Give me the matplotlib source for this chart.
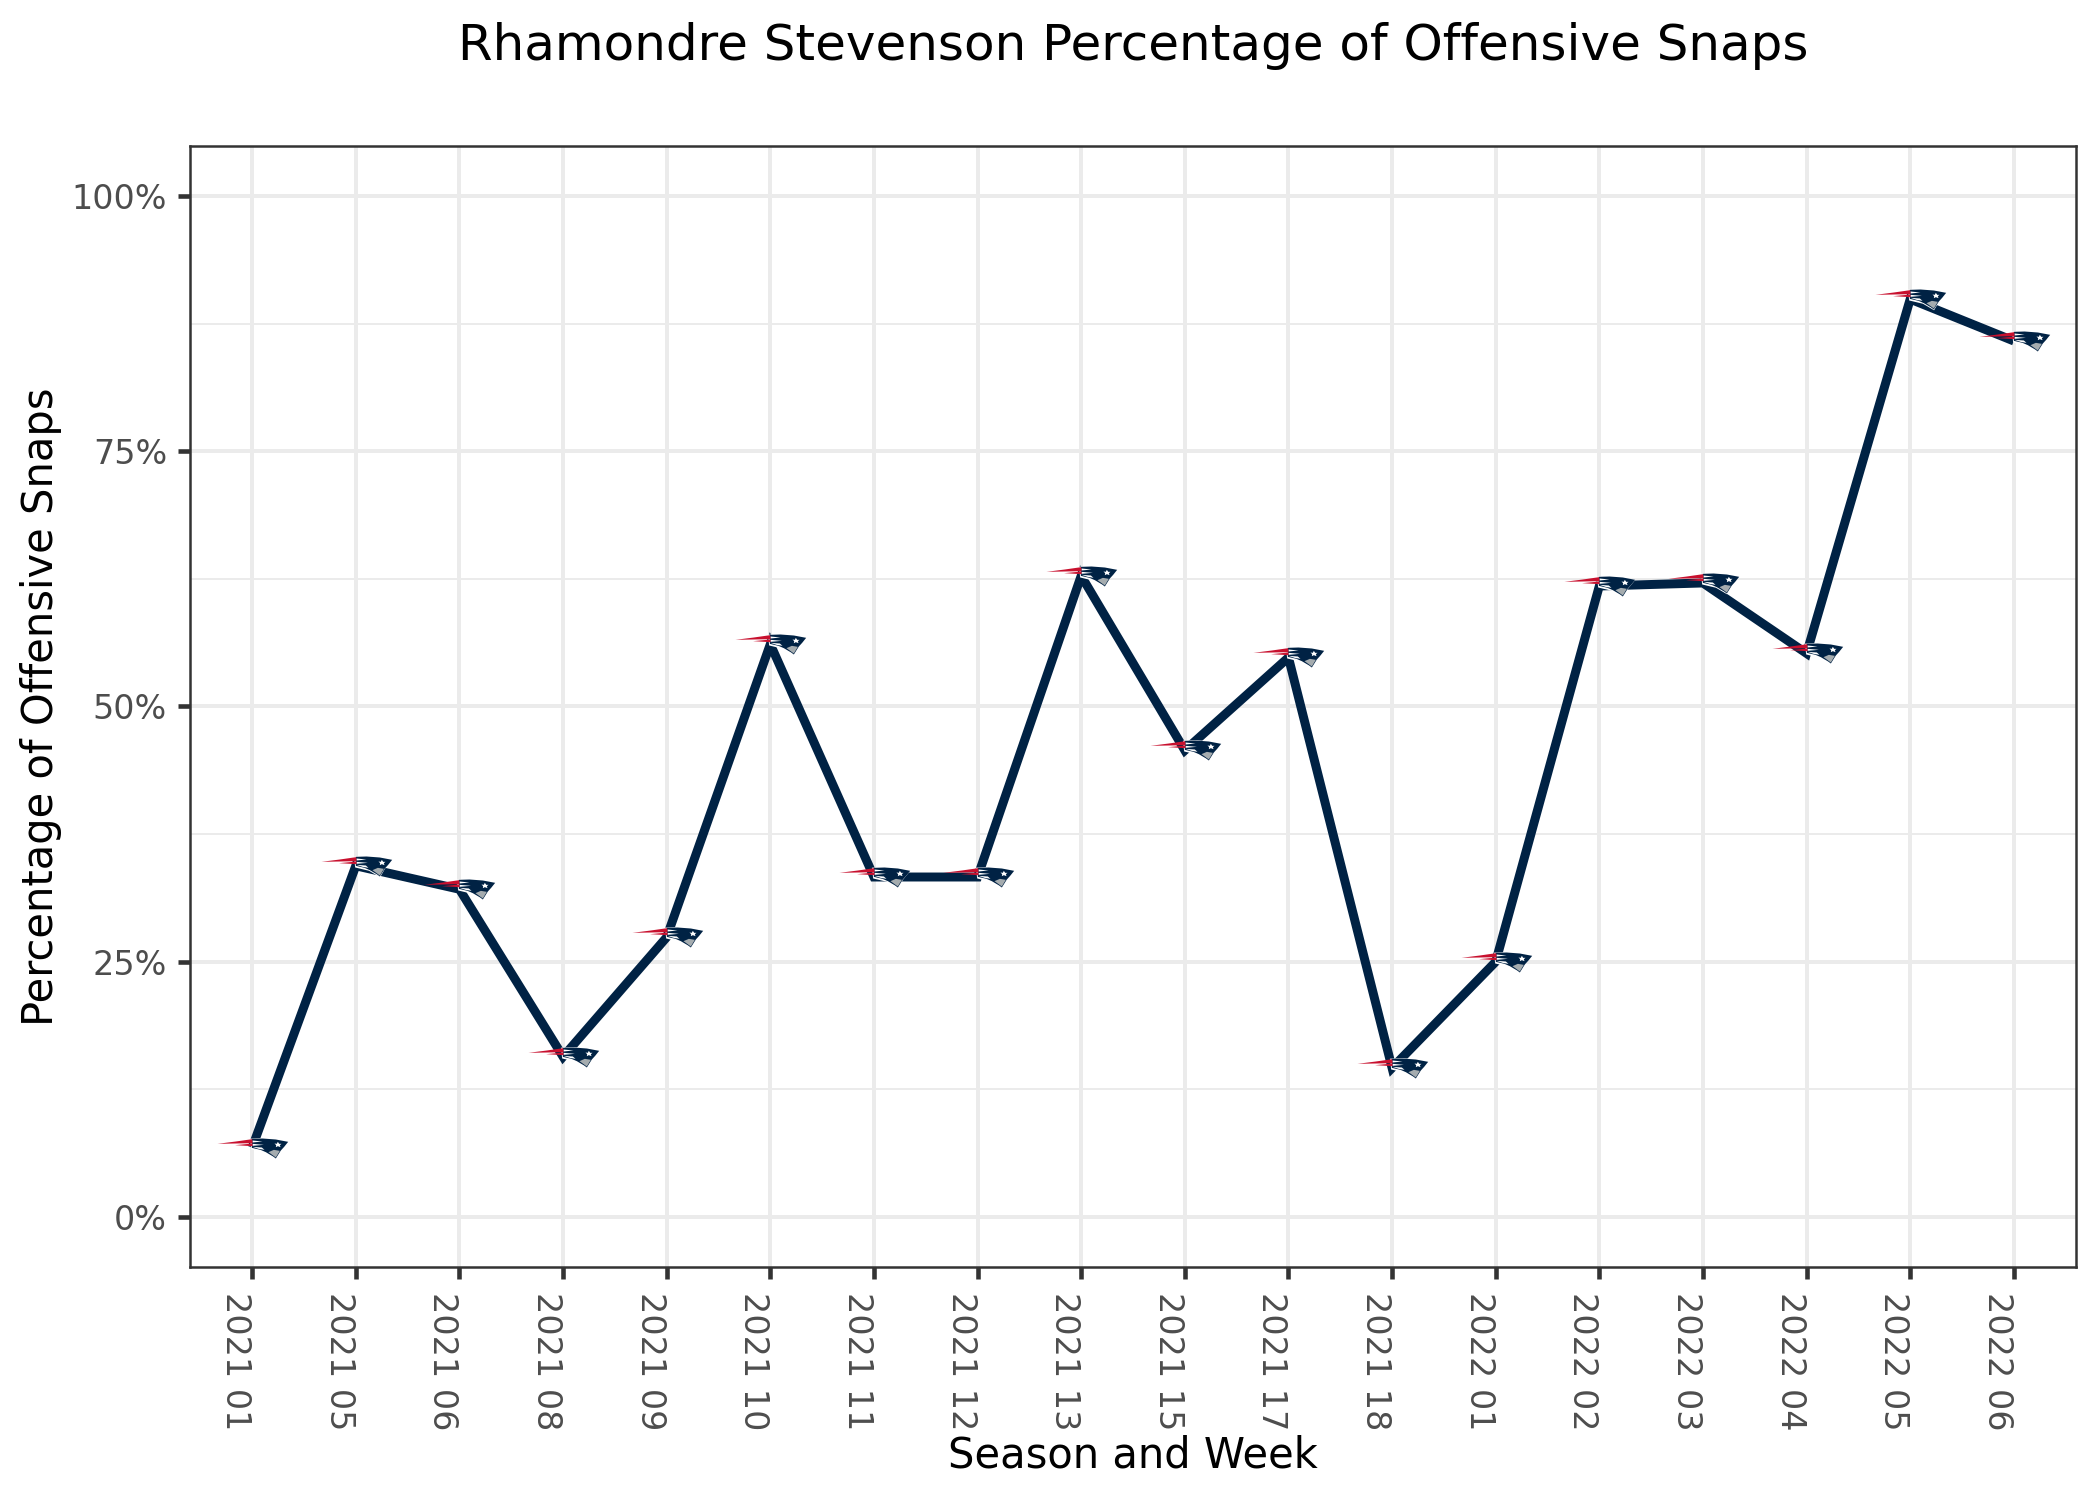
import matplotlib
matplotlib.use("Agg")
import matplotlib.pyplot as plt
from matplotlib.path import Path
from matplotlib.ticker import PercentFormatter

weeks = ["2021 01", "2021 05", "2021 06", "2021 08", "2021 09", "2021 10", "2021 11", "2021 12", "2021 13",
         "2021 15", "2021 17", "2021 18", "2022 01", "2022 02", "2022 03", "2022 04", "2022 05", "2022 06"]
snap_pct = [6.8, 34.4, 32.1, 15.7, 27.4, 56.1, 33.3, 33.3, 62.8, 45.7, 54.8, 14.6, 25.0, 61.8, 62.1, 55.2, 89.9, 85.8]
y_major = [0, 25, 50, 75, 100]
y_minor = [12.5, 37.5, 62.5, 87.5]

NAVY = "#002244"
RED = "#C8102E"
SILVER = "#A5ACAF"

plt.rcParams["font.family"] = "DejaVu Sans"
fig = plt.figure(figsize=(7, 5), dpi=300, facecolor="white")
ax = fig.add_axes([190 / 2100, 1 - 1267 / 1500, (2076 - 190) / 2100, (1267 - 146) / 1500])

ax.set_xlim(-0.6, 17.6)
ax.set_ylim((1217 - 1267) / 10.21, (1217 - 146) / 10.21)

x = list(range(len(weeks)))
ax.set_xticks(x)
ax.set_xticklabels(weeks, rotation=-90, ha="right", va="top", fontsize=8, color="#4D4D4D")
ax.set_yticks(y_major)
ax.set_yticks(y_minor, minor=True)
ax.yaxis.set_major_formatter(PercentFormatter(100, decimals=0))
ax.tick_params(axis="y", which="major", labelsize=8, labelcolor="#4D4D4D", length=2.9, width=1.1, color="#333333", pad=2.6)
ax.tick_params(axis="x", which="major", length=2.9, width=1.1, color="#333333", pad=3.0)
ax.tick_params(axis="y", which="minor", length=0)

ax.set_axisbelow(True)
ax.grid(True, which="major", color="#EBEBEB", lw=0.95)
ax.grid(True, which="minor", axis="y", color="#EBEBEB", lw=0.48)
for s in ax.spines.values():
    s.set_color("#333333")
    s.set_linewidth(0.6)

ax.plot(x, snap_pct, color=NAVY, lw=2.15, solid_joinstyle="miter", solid_capstyle="butt", zorder=3)


def logo_marker(*polys):
    """Compound marker in logo units; the anchor keeps every layer on one scale."""
    paths = [Path(p + [p[0]], closed=True) for p in polys]
    paths.append(Path([(108, 0), (108, 0), (108, 0), (108, 0)], closed=True))
    return Path.make_compound_path(*paths)


white_under = logo_marker([(-8, 30), (32, 32), (72, 28), (110, 21), (96, 4), (87, -7), (72, -33), (62, -27), (38, -13), (-4, -3)])
navy_head = logo_marker(
    [(-2, 29), (30, 30), (70, 27), (107, 20), (95, 5), (85, -6), (70, -30), (62, -24), (40, -11), (24, -4), (-2, 2)],
)
red_streaks = logo_marker(
    [(-105, 14), (-50, 21), (-1, 28), (0, 16), (-50, 15)],
    [(-52, 10), (0, 15), (0, 7)],
)
white_lines = logo_marker(
    [(0, 24), (30, 21), (0, 18)],
    [(0, 14), (34, 11), (0, 8)],
    [(0, 5), (28, 3), (36, -4), (18, -1)],
)
silver_face = logo_marker([(48, -11), (70, -27), (82, -7), (64, -4)])
white_star = logo_marker([(66, 15), (73, 14), (76, 20), (80, 14), (87, 14), (82, 10), (84, 4), (76, 7), (70, 4), (71, 10)])

for mk, col, z in [(white_under, "white", 4), (navy_head, NAVY, 5), (white_lines, "white", 6),
                   (red_streaks, RED, 7), (silver_face, SILVER, 7), (white_star, "white", 7)]:
    ax.plot(x, snap_pct, ls="none", marker=mk, ms=17.28, mfc=col, mew=0, zorder=z)

ax.set_title("Rhamondre Stevenson Percentage of Offensive Snaps", fontsize=12, color="black", pad=20.6)
ax.set_xlabel("Season and Week", fontsize=10, color="black")
ax.xaxis.set_label_coords(0.5, -(1467 - 1267) / 1121, transform=ax.transAxes)
ax.xaxis.label.set_va("baseline")
ax.set_ylabel("Percentage of Offensive Snaps", fontsize=10, color="black")
ax.yaxis.set_label_coords(-(190 - 53) / 1886, 0.5, transform=ax.transAxes)
ax.yaxis.label.set_va("baseline")

fig.savefig("out.png", dpi=300, facecolor="white")
